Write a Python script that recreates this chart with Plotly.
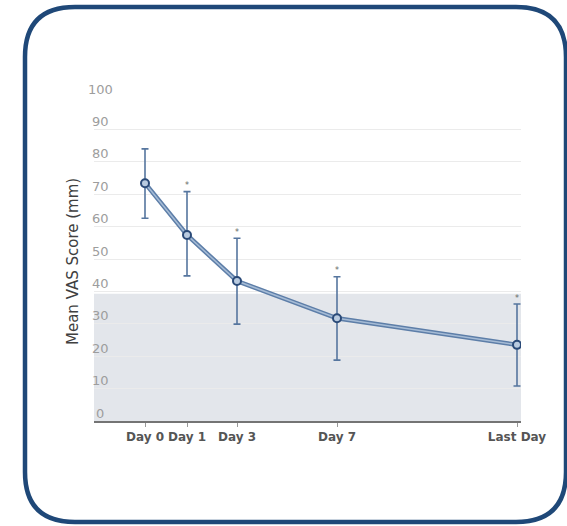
import plotly.graph_objects as go

# ---- data ----
day_labels = ["Day 0", "Day 1", "Day 3", "Day 7", "Last Day"]
day_pos = [0, 1.68, 3.68, 7.68, 14.88]          # horizontal placement of the visits
mean_vas = [73.4, 57.4, 43.2, 31.7, 23.5]
err_plus = [10.6, 13.4, 13.2, 12.8, 12.6]
err_minus = [10.8, 12.6, 13.3, 12.9, 12.7]
significant = [False, True, True, True, True]
shade_top = 39.3
y_ticks = list(range(0, 101, 10))

W, H = 567, 526
L, R, T, B = 94, 567 - 521, 97, 526 - 421
pw, ph = W - L - R, H - T - B

def px_x(p):
    return (p - L) / pw

def px_y(p):
    return (H - B - p) / ph

fig = go.Figure()

# line (outer + inner highlight)
fig.add_trace(go.Scatter(
    x=day_pos, y=mean_vas, mode="lines",
    line=dict(color="#5d7ea8", width=4.5), hoverinfo="skip", showlegend=False))
fig.add_trace(go.Scatter(
    x=day_pos, y=mean_vas, mode="lines",
    line=dict(color="#a6bcd6", width=1.5), hoverinfo="skip", showlegend=False))
# error bars + markers
fig.add_trace(go.Scatter(
    x=day_pos, y=mean_vas, mode="markers",
    error_y=dict(type="data", array=err_plus, arrayminus=err_minus,
                 color="#56769f", thickness=1.6, width=3.5),
    marker=dict(size=8, color="#b9cbe0", line=dict(color="#2a4a78", width=2)),
    showlegend=False))

# significance marks
for xp, m, e, s in zip(day_pos, mean_vas, err_plus, significant):
    if s:
        fig.add_annotation(x=xp, y=m + e, text="*", showarrow=False,
                           yshift=6, font=dict(size=8, color="#666", family="DejaVu Sans"))

# y tick labels placed above gridlines
for v in y_ticks:
    fig.add_annotation(xref="paper", yref="y", x=px_x(100), y=v, text=str(v),
                       showarrow=False, yshift=8, xanchor="center",
                       font=dict(size=13, color="#9d9d9d", family="DejaVu Sans"))

# shaded region
fig.add_shape(type="rect", xref="paper", yref="y", x0=0, x1=1, y0=0, y1=shade_top,
              fillcolor="#e3e6eb", line=dict(width=0), layer="between")

# rounded frame
x0, x1 = px_x(25), px_x(566)
y0, y1 = px_y(522), px_y(7)
rx, ry = 50 / pw, 50 / ph
path = (f"M {x0+rx},{y1} L {x1-rx},{y1} Q {x1},{y1} {x1},{y1-ry} "
        f"L {x1},{y0+ry} Q {x1},{y0} {x1-rx},{y0} L {x0+rx},{y0} "
        f"Q {x0},{y0} {x0},{y0+ry} L {x0},{y1-ry} Q {x0},{y1} {x0+rx},{y1} Z")
fig.add_shape(type="path", xref="paper", yref="paper", path=path,
              line=dict(color="#1f4878", width=4.5), layer="above")

# y axis title
fig.add_annotation(xref="paper", yref="paper", x=px_x(62), y=px_y(262),
                   text="Mean VAS Score (mm)", textangle=-90, showarrow=False,
                   font=dict(size=15, color="#404040", family="DejaVu Sans"))

fig.update_layout(
    width=W, height=H,
    margin=dict(l=L, r=R, t=T, b=B),
    paper_bgcolor="white", plot_bgcolor="white",
    xaxis=dict(range=[(94 - 145) / 25, (521 - 145) / 25],
               tickvals=day_pos, ticktext=day_labels,
               showgrid=False, zeroline=False,
               showline=True, linecolor="#747474", linewidth=2,
               ticks="outside", ticklen=4, tickcolor="#999", tickwidth=1,
               tickfont=dict(size=12, color="#555", family="DejaVu Sans", weight="bold"),
               fixedrange=True),
    yaxis=dict(range=[0, 100], tickvals=y_ticks, showticklabels=False,
               showgrid=True, gridcolor="#ebebeb", gridwidth=1,
               zeroline=False, showline=False, fixedrange=True),
)

fig.write_html("out.html", config={"displayModeBar": False},
               post_script="document.body.style.margin='0';document.body.style.overflow='hidden';")
